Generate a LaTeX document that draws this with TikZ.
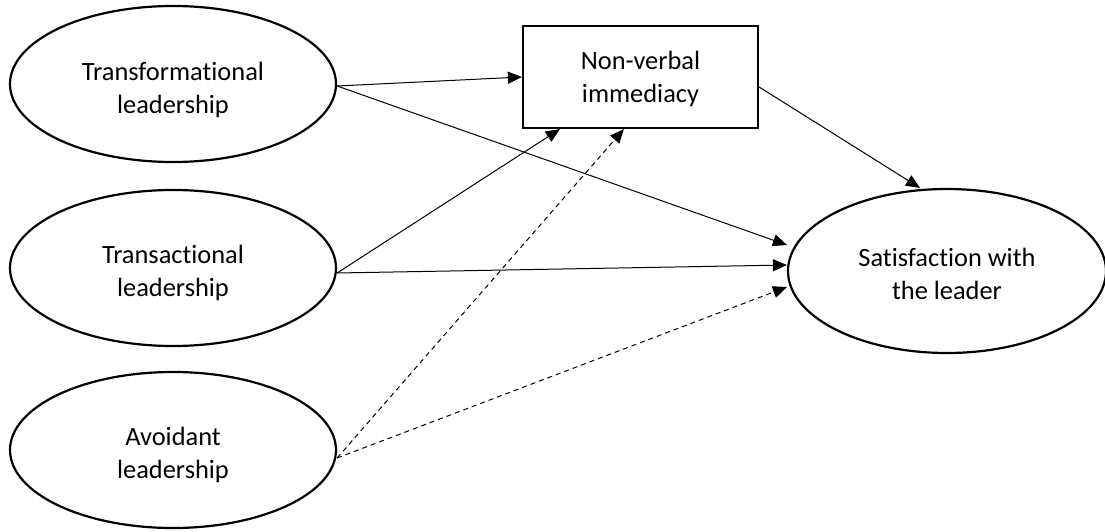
\documentclass[tikz,border=0pt]{standalone}
\usepackage{fontspec}
\setmainfont{Carlito}[Ligatures={NoCommon,NoRare}]
\usetikzlibrary{shapes.geometric,arrows.meta,calc}

\tikzset{
  txt/.style={inner sep=0pt, align=center, font=\fontsize{26.4}{33}\selectfont},
  construct/.style={draw, ellipse, line width=2.2pt, minimum width=326pt,
    minimum height=156pt, inner sep=0pt},
  mediator/.style={draw, rectangle, line width=2.2pt, minimum width=235pt,
    minimum height=102pt, inner sep=0pt},
  path/.style={line width=1pt, -{Triangle[length=14pt,width=12pt]}},
  weakpath/.style={path, dashed, dash pattern=on 5pt off 4pt}
}

\begin{document}
\begin{tikzpicture}[x=1pt,y=-1pt]
  \useasboundingbox (0,0) rectangle (1105,532);

  % exogenous leadership styles
  \node[construct, label={[txt,yshift=-6pt]center:Transformational\\leadership}]
    (tf) at (173,84) {};
  \node[construct, label={[txt,yshift=-5pt]center:Transactional\\leadership}]
    (ta) at (173,268) {};
  \node[construct, label={[txt,yshift=-5pt]center:Avoidant\\leadership}]
    (av) at (173,450) {};

  % mediator and outcome
  \node[mediator, label={[txt,yshift=-2pt]center:Non-verbal\\immediacy}]
    (nv) at (640.5,77) {};
  \node[construct, minimum width=318pt, minimum height=164pt,
    label={[txt,yshift=-3pt]center:Satisfaction with\\the leader}]
    (sat) at (947,271) {};

  % paths
  \draw[path] ([yshift=-2pt]tf.east) -- (nv.west);
  \draw[path] ([yshift=-2pt]tf.east) -- ([yshift=26pt]sat.west);
  \draw[path] ([yshift=-5pt]ta.east) -- ($(nv.south west)!0.16!(nv.south east)$);
  \draw[path] ([yshift=-5pt]ta.east) -- ([yshift=6pt]sat.west);
  \draw[weakpath] ([yshift=-8pt]av.east) -- ($(nv.south west)!0.43!(nv.south east)$);
  \draw[weakpath] ([yshift=-8pt]av.east) -- ([yshift=-16pt]sat.west);
  \draw[path] ([yshift=-10pt]nv.east) -- ([xshift=-27pt]sat.north);
\end{tikzpicture}
\end{document}
